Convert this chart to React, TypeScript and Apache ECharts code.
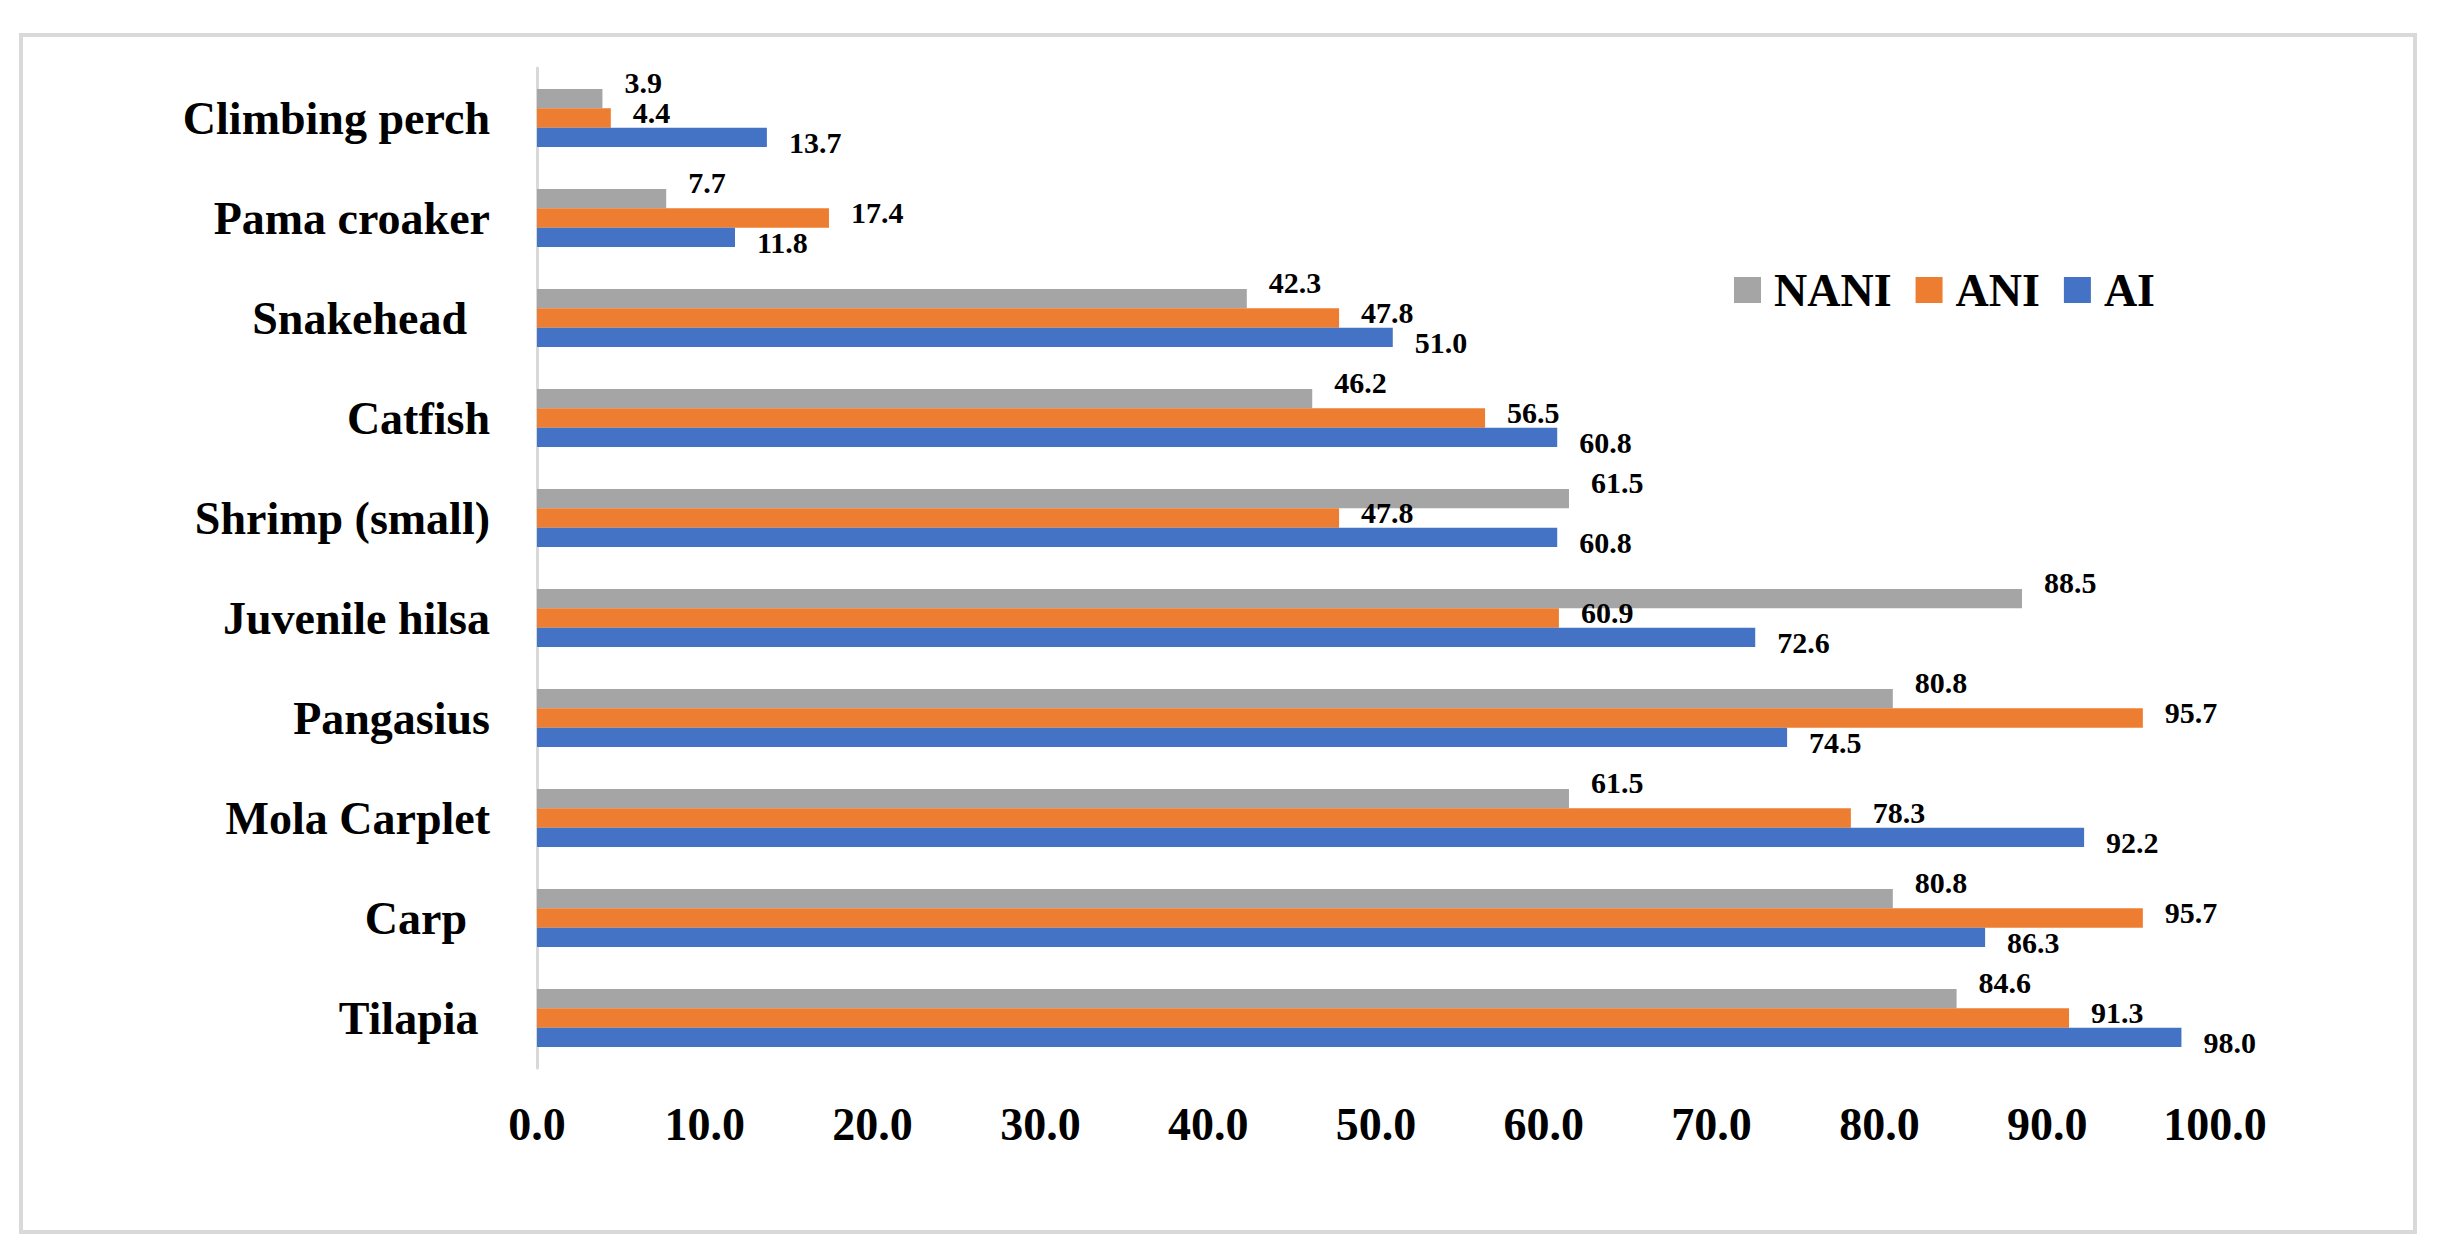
import React, { useEffect, useRef } from "react";
import * as echarts from "echarts";

const categories = [
  "Tilapia ",
  "Carp  ",
  "Mola Carplet",
  "Pangasius",
  "Juvenile hilsa",
  "Shrimp (small)",
  "Catfish",
  "Snakehead  ",
  "Pama croaker",
  "Climbing perch",
];
const seriesNames = ["NANI", "ANI", "AI"];
const naniValues = [84.6, 80.8, 61.5, 80.8, 88.5, 61.5, 46.2, 42.3, 7.7, 3.9];
const aniValues = [91.3, 95.7, 78.3, 95.7, 60.9, 47.8, 56.5, 47.8, 17.4, 4.4];
const aiValues = [98.0, 86.3, 92.2, 74.5, 72.6, 60.8, 60.8, 51.0, 11.8, 13.7];
const colors = ["#a5a5a5", "#ed7d31", "#4472c4"];
const labelOffsets = [
  [0, -16],
  [0, -6],
  [0, 5],
];

const FONT = "'Liberation Serif', 'Times New Roman', serif";

export default function App() {
  const ref = useRef<HTMLDivElement>(null);
  useEffect(() => {
    if (!ref.current) return;
    const chart = echarts.init(ref.current, undefined, { renderer: "svg" });
    const values = [naniValues, aniValues, aiValues];
    chart.setOption({
      animation: false,
      backgroundColor: "#ffffff",
      graphic: [
        {
          type: "rect",
          shape: { x: 21, y: 35, width: 2394, height: 1197 },
          style: { fill: "none", stroke: "#d9d9d9", lineWidth: 4 },
          silent: true,
        },
      ],
      legend: {
        data: seriesNames,
        left: 1729,
        top: 262,
        itemWidth: 27,
        itemHeight: 26,
        itemGap: 24,
        icon: "rect",
        textStyle: {
          fontFamily: FONT,
          fontSize: 46,
          fontWeight: "bold",
          color: "#000",
          padding: [0, 0, 0, 8],
        },
      },
      grid: { left: 537, top: 68, width: 1678, height: 1000, containLabel: false },
      xAxis: {
        type: "value",
        min: 0,
        max: 100,
        interval: 10,
        axisLine: { show: false },
        axisTick: { show: false },
        splitLine: { show: false },
        axisLabel: {
          formatter: (v: number) => v.toFixed(1),
          fontFamily: FONT,
          fontSize: 46,
          fontWeight: "bold",
          color: "#000",
          margin: 33,
        },
      },
      yAxis: {
        type: "category",
        data: categories,
        axisLine: { show: true, lineStyle: { color: "#d9d9d9", width: 3 } },
        axisTick: { show: false },
        axisLabel: {
          fontFamily: FONT,
          fontSize: 46,
          fontWeight: "bold",
          color: "#000",
          margin: 47,
        },
      },
      series: seriesNames.map((name, i) => ({
        name,
        type: "bar",
        data: values[i],
        itemStyle: { color: colors[i] },
        barGap: "0%",
        barCategoryGap: "42%",
        label: {
          show: true,
          position: "right",
          distance: 22,
          offset: labelOffsets[i],
          formatter: (p: any) => Number(p.value).toFixed(1),
          fontFamily: FONT,
          fontSize: 30,
          fontWeight: "bold",
          color: "#000",
        },
      })),
    });
    return () => chart.dispose();
  }, []);
  return (
    <div
      ref={ref}
      style={{ position: "fixed", left: 0, top: 0, width: 2442, height: 1254 }}
    />
  );
}
